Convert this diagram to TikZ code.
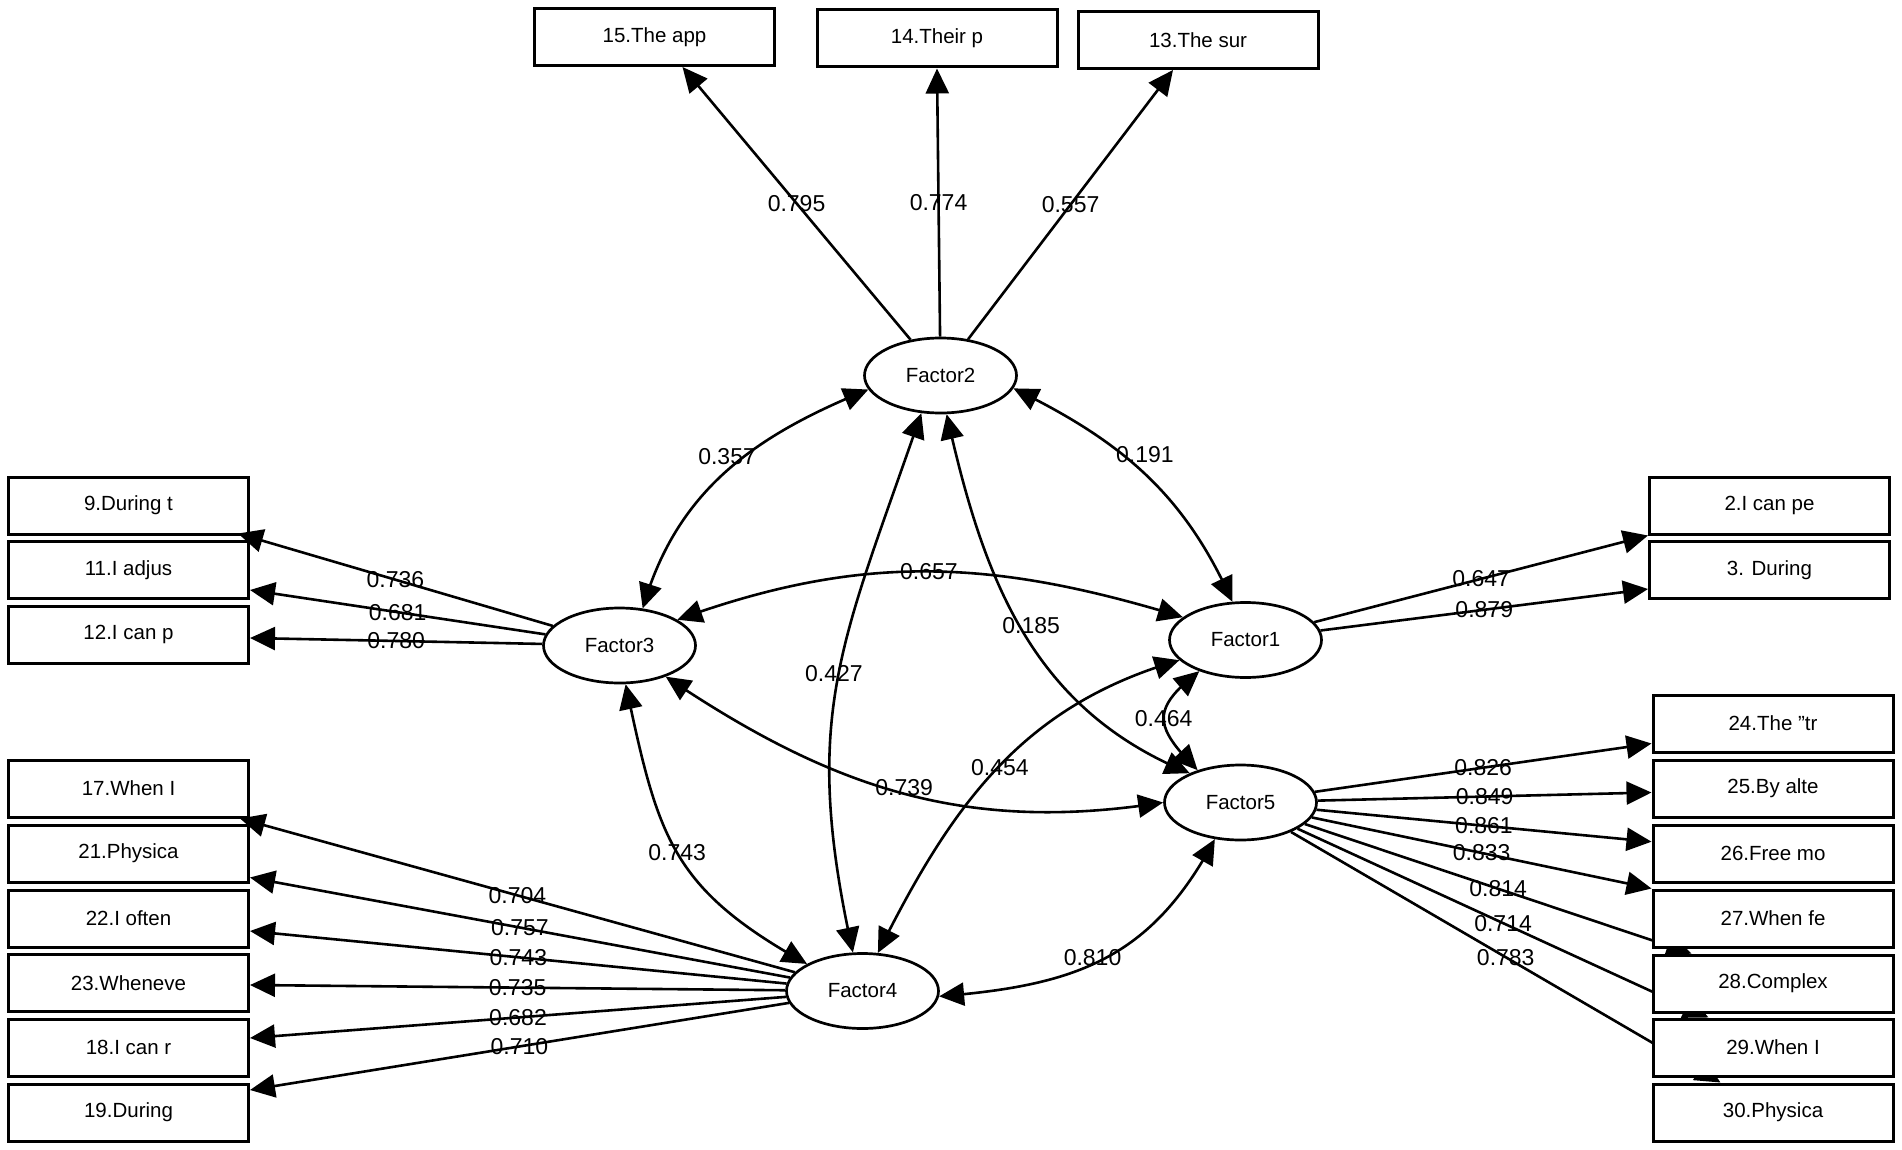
\documentclass[tikz,border=0pt]{standalone}
\usepackage{fontspec}
\setmainfont{Liberation Sans}
\usetikzlibrary{arrows.meta,bending,shapes.geometric,backgrounds}
\begin{document}
\begin{tikzpicture}[x=1pt,y=-1pt,
  box/.style={draw, line width=3pt, fill=white, minimum width=240pt, minimum height=57pt, inner sep=0pt, font=\fontsize{20.5}{24}\selectfont},
  fac/.style={ellipse, draw, line width=2.7pt, fill=white, minimum width=152pt, minimum height=75pt, inner sep=0pt, font=\fontsize{20.5}{24}\selectfont},
  arr/.style={line width=2.6pt, -{Triangle[length=25pt,width=23pt]}},
  dbl/.style={line width=2.6pt, {Triangle[length=25pt,width=23pt]}-{Triangle[length=25pt,width=23pt]}},
  lab/.style={font=\fontsize{23}{26}\selectfont, inner sep=0pt}
]
\useasboundingbox (0,0) rectangle (1902,1150);

% factors
\node[fac] (F2) at (940.5,375.5) {Factor2};
\node[fac] (F3) at (619.5,645.5) {Factor3};
\node[fac] (F1) at (1245.5,640) {Factor1};
\node[fac] (F5) at (1240.5,802.5) {Factor5};
\node[fac] (F4) at (862.5,991) {Factor4};

% top indicators
\node[box] (b15) at (654.5,37) {15.The app};
\node[box] (b14) at (937,38.5) {14.Their p};
\node[box] (b13) at (1198,40) {13.The sur};

% left indicators
\node[box] (b9)  at (128.5,505.5) {9.During t};
\node[box] (b11) at (128.5,570) {11.I adjus};
\node[box] (b12) at (128.5,634.5) {12.I can p};
\node[box] (b17) at (128.5,788.5) {17.When I};
\node[box] (b21) at (128.5,853.5) {21.Physica};
\node[box] (b22) at (128.5,918.5) {22.I often};
\node[box] (b23) at (128.5,983) {23.Wheneve};
\node[box] (b18) at (128.5,1047.5) {18.I can r};
\node[box] (b19) at (128.5,1112.5) {19.During};

% right indicators
\node[box] (b2)  at (1769.5,505.5) {2.I can pe};
\node[box] (b3)  at (1769.5,570) {3. During};
\node[box] (b24) at (1773,723.5) {24.The ”tr};
\node[box] (b25) at (1773,788.5) {25.By alte};
\node[box] (b26) at (1773,853.5) {26.Free mo};
\node[box] (b27) at (1773,918.5) {27.When fe};
\node[box] (b28) at (1773,983.5) {28.Complex};
\node[box] (b29) at (1773,1047.5) {29.When I};
\node[box] (b30) at (1773,1112.5) {30.Physica};

\begin{scope}[on background layer]
  \fill[white] (0,0) rectangle (1902,1150);
  \draw[arr] (F5) -- ([xshift=40pt]b28.north west) node[lab,midway]{0.814};
  \draw[arr] (F5) -- ([xshift=57pt]b29.north west) node[lab,midway]{0.714};
  \draw[arr] (F5) -- ([xshift=69pt]b30.north west) node[lab,midway]{0.783};
\end{scope}

% loadings Factor2
\draw[arr] (F2) -- ([xshift=28pt]b15.south) node[lab,midway]{0.795};
\draw[arr] (F2) -- (b14.south) node[lab,midway]{0.774};
\draw[arr] (F2) -- ([xshift=-25pt]b13.south) node[lab,midway]{0.557};

% loadings Factor3
\draw[arr] (F3) -- ([xshift=-12pt,yshift=2pt]b9.south east) node[lab,midway]{0.736};
\draw[arr] (F3) -- ([yshift=-20pt]b11.east) node[lab,midway]{0.681};
\draw[arr] (F3) -- ([yshift=-3.5pt]b12.east) node[lab,midway]{0.780};

% loadings Factor4
\draw[arr] (F4) -- ([xshift=-10pt]b17.south east) node[lab,midway]{0.704};
\draw[arr] (F4) -- ([yshift=-24pt]b21.east) node[lab,midway]{0.757};
\draw[arr] (F4) -- ([yshift=-12.5pt]b22.east) node[lab,midway]{0.743};
\draw[arr] (F4) -- ([yshift=-2pt]b23.east) node[lab,midway]{0.735};
\draw[arr] (F4) -- ([yshift=9.5pt]b18.east) node[lab,midway]{0.682};
\draw[arr] (F4) -- ([yshift=22.5pt]b19.east) node[lab,midway]{0.710};

% loadings Factor1
\draw[arr] (F1) -- (b2.south west) node[lab,midway]{0.647};
\draw[arr] (F1) -- ([yshift=-19pt]b3.west) node[lab,midway]{0.879};

% loadings Factor5
\draw[arr] (F5) -- ([yshift=-20pt]b24.west) node[lab,midway]{0.826};
\draw[arr] (F5) -- ([yshift=-4pt]b25.west) node[lab,midway]{0.849};
\draw[arr] (F5) -- ([yshift=11.8pt]b26.west) node[lab,midway]{0.861};
\draw[arr] (F5) -- (b27.north west) node[lab,midway]{0.833};

% correlations
\draw[dbl] (F3.58) to[out=74,in=202] node[lab,pos=0.5,xshift=1.6pt,yshift=15pt]{0.357} (F2.191);
\draw[dbl] (F2.350) to[out=-26,in=114] node[lab,pos=0.5,yshift=19pt]{0.191} (F1.109);
\draw[dbl] (F3.24) to[out=20,in=163] node[lab,pos=0.5]{0.657} (F1.160);
\draw[dbl] (F3.-34) to[out=-34,in=189] node[lab,pos=0.5,xshift=1.7pt,yshift=5.5pt]{0.739} (F5.180);
\draw[dbl] (F3.-81) to[out=-78,in=151,looseness=1.2] node[lab,pos=0.5]{0.743} (F4.154);
\draw[dbl] (F2.-117) to[out=-109,in=102.5,looseness=1.15] node[lab,pos=0.5,xshift=-3.5pt,yshift=6.3pt]{0.427} (F4.104);
\draw[dbl] (F2.-81) to[out=-77.5,in=158] node[lab,pos=0.5,xshift=8.2pt,yshift=6.8pt]{0.185} (F5.150);
\draw[dbl] (F4.68) to[out=63.5,in=196] node[lab,pos=0.5,xshift=3pt,yshift=1pt]{0.454} (F1.197);
\draw[dbl] (F4.-4) to[out=4.5,in=242,looseness=1.1] node[lab,pos=0.5,xshift=-11.4pt,yshift=1.8pt]{0.810} (F5.-125);
\draw[dbl] (F1.214) to[out=218,in=135,looseness=1.6] node[lab,pos=0.5]{0.464} (F5.143);
\end{tikzpicture}
\end{document}
